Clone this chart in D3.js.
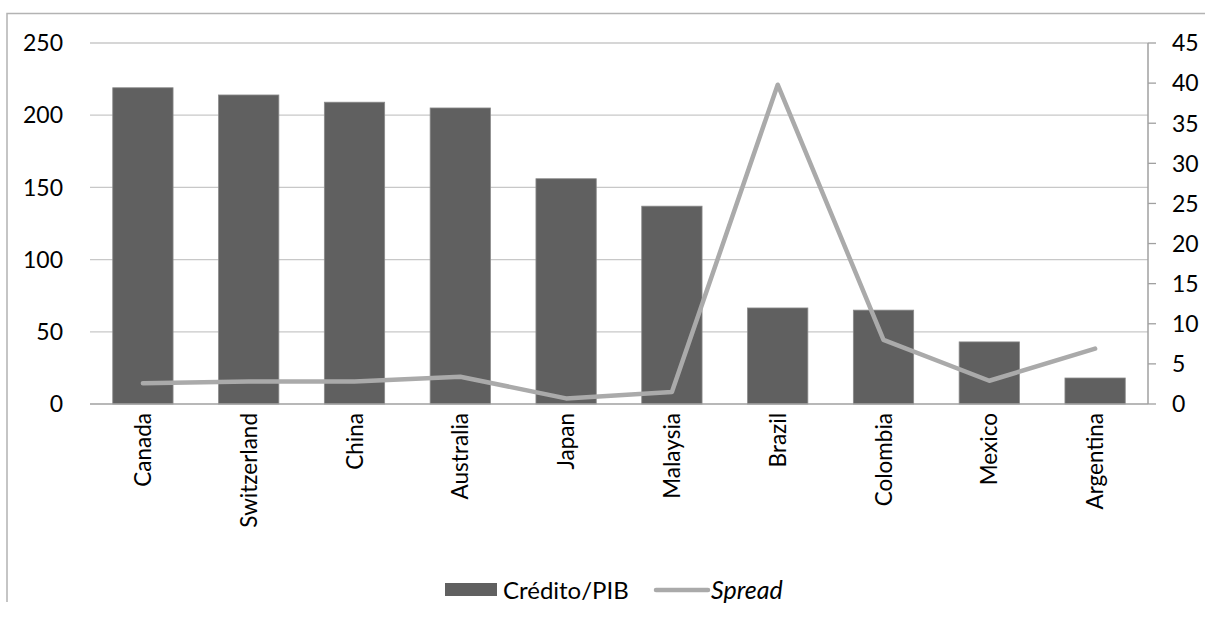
<!DOCTYPE html>
<html>
<head>
<meta charset="utf-8">
<script src="https://cdn.jsdelivr.net/npm/d3@7"></script>
<style>
  html, body { margin: 0; padding: 0; background: #fff; }
  svg { display: block; font-family: Lato, "Open Sans", sans-serif; }
</style>
</head>
<body>
<svg id="chart" width="1205" height="621"></svg>
<script>
// Credit-to-GDP ratio (bars, left axis) and lending spread (line, right axis)
const countries = ["Canada", "Switzerland", "China", "Australia", "Japan",
                   "Malaysia", "Brazil", "Colombia", "Mexico", "Argentina"];
const creditGdp = [219, 214, 209, 205, 156, 137, 66.5, 65, 43, 18];
const spread = [2.6, 2.8, 2.8, 3.4, 0.7, 1.5, 39.8, 8.0, 2.9, 6.9];
const leftTicks = [0, 50, 100, 150, 200, 250];
const rightTicks = [0, 5, 10, 15, 20, 25, 30, 35, 40, 45];

const svg = d3.select("#chart");
const plot = { left: 90, right: 1148, top: 43, bottom: 404 };
const fontSize = 23;

// chart frame
svg.append("path")
  .attr("d", `M7,602 V13.5 H1205`)
  .attr("fill", "none")
  .attr("stroke", "#b3b3b3")
  .attr("stroke-width", 1.5);

const x = d3.scaleBand().domain(countries)
  .range([plot.left, plot.right]).paddingInner(0.43).paddingOuter(0.215);
const yL = d3.scaleLinear().domain([0, 250]).range([plot.bottom, plot.top]);
const yR = d3.scaleLinear().domain([0, 45]).range([plot.bottom, plot.top]);

// horizontal gridlines
svg.append("g").selectAll("line").data(leftTicks.filter(d => d > 0)).join("line")
  .attr("x1", plot.left).attr("x2", plot.right)
  .attr("y1", d => yL(d)).attr("y2", d => yL(d))
  .attr("stroke", "#c8c8c8").attr("stroke-width", 1.3);

// left axis labels
svg.append("g").selectAll("text").data(leftTicks).join("text")
  .attr("x", 63).attr("y", d => yL(d))
  .attr("dy", "0.36em")
  .attr("text-anchor", "end")
  .attr("font-size", fontSize).attr("fill", "#000")
  .text(d => d);

// bars
svg.append("g").selectAll("rect").data(countries).join("rect")
  .attr("x", d => x(d))
  .attr("width", x.bandwidth())
  .attr("y", (d, i) => yL(creditGdp[i]))
  .attr("height", (d, i) => yL(0) - yL(creditGdp[i]))
  .attr("fill", "#606060")
  .attr("stroke", "#8a8a8a").attr("stroke-width", 0.8);

// bottom axis line
svg.append("line")
  .attr("x1", plot.left).attr("x2", plot.right)
  .attr("y1", plot.bottom).attr("y2", plot.bottom)
  .attr("stroke", "#a0a0a0").attr("stroke-width", 1.5);

// right axis
const rAxis = svg.append("g");
rAxis.append("line")
  .attr("x1", plot.right).attr("x2", plot.right)
  .attr("y1", plot.top).attr("y2", plot.bottom)
  .attr("stroke", "#a0a0a0").attr("stroke-width", 1.5);
rAxis.selectAll("line.tick").data(rightTicks).join("line")
  .attr("class", "tick")
  .attr("x1", plot.right).attr("x2", plot.right + 8)
  .attr("y1", d => yR(d)).attr("y2", d => yR(d))
  .attr("stroke", "#a0a0a0").attr("stroke-width", 1.3);
rAxis.selectAll("text").data(rightTicks).join("text")
  .attr("x", 1172).attr("y", d => yR(d))
  .attr("dy", "0.36em")
  .attr("font-size", fontSize).attr("fill", "#000")
  .text(d => d);

// spread line
const line = d3.line()
  .x((d, i) => x(countries[i]) + x.bandwidth() / 2)
  .y(d => yR(d));
svg.append("path").datum(spread)
  .attr("d", line)
  .attr("fill", "none")
  .attr("stroke", "#aaaaaa").attr("stroke-width", 4.5)
  .attr("stroke-linejoin", "round").attr("stroke-linecap", "round");

// category labels, rotated
svg.append("g").selectAll("text").data(countries).join("text")
  .attr("transform", d => `translate(${x(d) + x.bandwidth() / 2},413) rotate(-90)`)
  .attr("dy", "0.36em")
  .attr("text-anchor", "end")
  .attr("font-size", 22.5).attr("fill", "#000")
  .text(d => d);

// legend
const lg = svg.append("g");
lg.append("rect").attr("x", 445).attr("y", 583).attr("width", 52).attr("height", 13)
  .attr("fill", "#606060");
lg.append("text").attr("x", 503).attr("y", 590).attr("dy", "0.36em")
  .attr("font-size", 24).text("Crédito/PIB");
lg.append("line").attr("x1", 656).attr("x2", 708).attr("y1", 590).attr("y2", 590)
  .attr("stroke", "#aaaaaa").attr("stroke-width", 4.5).attr("stroke-linecap", "round");
lg.append("text").attr("x", 711).attr("y", 590).attr("dy", "0.36em")
  .attr("font-size", 25).attr("font-style", "italic").text("Spread");
</script>
</body>
</html>
